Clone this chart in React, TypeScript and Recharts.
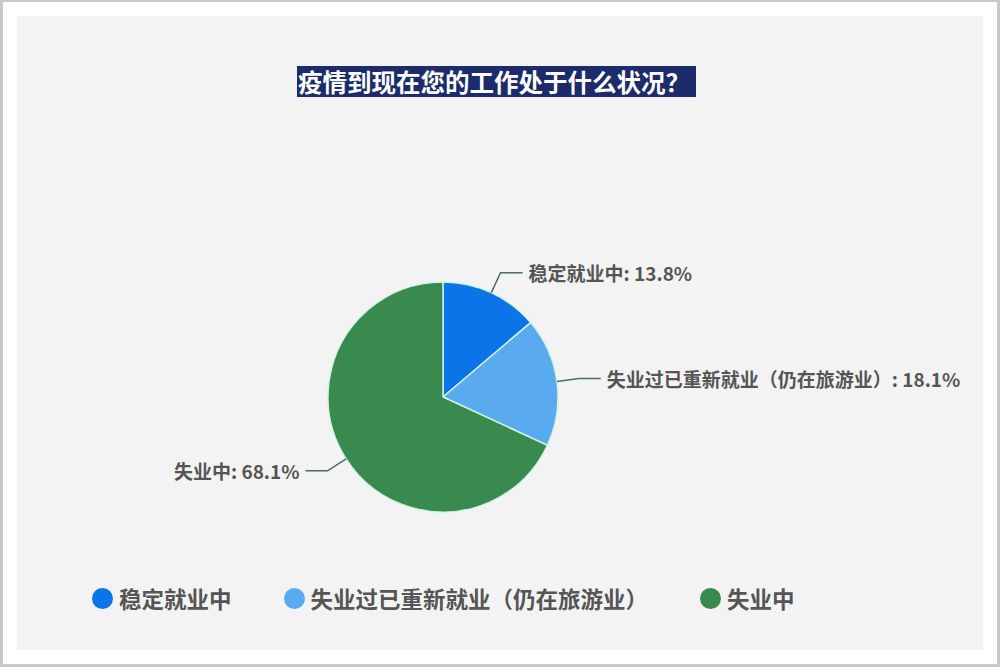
import React from 'react';
import { PieChart, Pie, Cell, Legend } from 'recharts';

const categories = ['稳定就业中', '失业过已重新就业（仍在旅游业）', '失业中'];
const shares = [13.8, 18.1, 68.1];
const colors = ['#0b74e8', '#5aaaf0', '#388a4e'];

const chartTitle = '疫情到现在您的工作处于什么状况？';
const fontFamily = '"Noto Sans CJK SC", "Noto Sans", sans-serif';

const data = categories.map((name, i) => ({ name, value: shares[i] }));

const RADIAN = Math.PI / 180;

const renderLabel = (props: any) => {
  const { cx, cy, midAngle, outerRadius, name, value } = props;
  const cos = Math.cos(-midAngle * RADIAN);
  const sin = Math.sin(-midAngle * RADIAN);
  const sx = cx + outerRadius * cos;
  const sy = cy + outerRadius * sin;
  const mx = cx + (outerRadius + 22) * cos;
  const my = cy + (outerRadius + 22) * sin;
  const dir = cos >= 0 ? 1 : -1;
  const ex = mx + dir * 22;
  return (
    <g>
      <polyline points={`${sx},${sy} ${mx},${my} ${ex},${my}`} fill="none" stroke="#4a6a6e" strokeWidth={1.5} />
      <text
        x={ex + dir * 6}
        y={my}
        textAnchor={dir > 0 ? 'start' : 'end'}
        dominantBaseline="central"
        fill="#555"
        fontSize={19}
        fontWeight={700}
        fontFamily={fontFamily}
      >
        {`${name}: ${value}%`}
      </text>
    </g>
  );
};

const renderLegend = () => (
  <div style={{ display: 'flex', alignItems: 'center', paddingLeft: 92, fontFamily }}>
    {categories.map((name, i) => (
      <div key={name} style={{ display: 'flex', alignItems: 'center', marginRight: 52 }}>
        <span
          style={{
            width: 21,
            height: 21,
            borderRadius: '50%',
            background: colors[i],
            display: 'inline-block',
            marginRight: 6,
          }}
        />
        <span style={{ fontSize: 22.5, fontWeight: 700, color: '#555' }}>{name}</span>
      </div>
    ))}
  </div>
);

const App = () => {
  return (
    <div style={{ position: 'fixed', left: 0, top: 0, width: 1000, height: 667, background: '#fff' }}>
      {/* outer frame */}
      <div
        style={{
          position: 'absolute',
          left: 0,
          top: 0,
          width: 1000,
          height: 667,
          boxSizing: 'border-box',
          borderTop: '2px solid #c8c8c8',
          borderLeft: '3px solid #c8c8c8',
          borderRight: '3px solid #c8c8c8',
          borderBottom: '3px solid #c8c8c8',
        }}
      />
      {/* panel */}
      <div style={{ position: 'absolute', left: 17, top: 16, width: 966, height: 634, background: '#f3f3f3' }} />
      {/* title */}
      <div
        style={{
          position: 'absolute',
          left: 297,
          top: 66,
          height: 31,
          background: '#1c2b6c',
          color: '#fff',
          fontFamily,
          fontSize: 24.5,
          fontWeight: 700,
          lineHeight: '31px',
          whiteSpace: 'nowrap',
          padding: '0 6px 0 1px',
        }}
      >
        {chartTitle}
      </div>
      <div style={{ position: 'absolute', left: 0, top: 0 }}>
        <PieChart width={1000} height={667} margin={{ top: 0, right: 0, bottom: 0, left: 0 }}>
          <Pie
            data={data}
            dataKey="value"
            nameKey="name"
            cx={443}
            cy={397}
            outerRadius={115}
            startAngle={90}
            endAngle={-270}
            stroke="#d2f2e2"
            strokeWidth={1.5}
            label={renderLabel}
            labelLine={false}
            isAnimationActive={false}
          >
            {data.map((d, i) => (
              <Cell key={d.name} fill={colors[i]} />
            ))}
          </Pie>
          <Legend
            content={renderLegend}
            verticalAlign="bottom"
            wrapperStyle={{ top: 582, bottom: 'auto', left: 0, width: 1000 }}
          />
        </PieChart>
      </div>
    </div>
  );
};

export default App;
